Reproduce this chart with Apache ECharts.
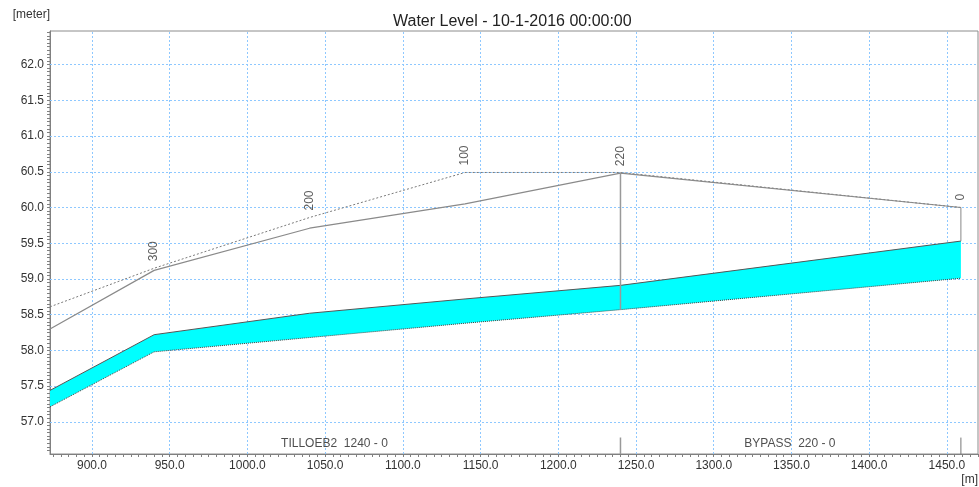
<!DOCTYPE html>
<html>
<head>
<meta charset="utf-8">
<style>
html, body { margin: 0; padding: 0; background: #fff; }
#main { width: 979px; height: 487px; }
</style>
<script src="https://cdn.jsdelivr.net/npm/echarts@6/dist/echarts.min.js"></script>
</head>
<body>
<div id="main"></div>
<script>
// chainage points along the branch (x in metres)
var chainX = [873, 940, 1040, 1140, 1240, 1459];
var dottedLevel = [58.61, 59.15, 59.86, 60.49, 60.49, 60.0];
var solidLevel = [58.30, 59.12, 59.71, 60.05, 60.48, 60.0];
var bandTop = [57.44, 58.22, 58.52, 58.72, 58.91, 59.53];
var bandBottom = [57.21, 57.98, 58.18, 58.38, 58.57, 59.01];

// rotated chainage labels
var pointNames = ['300', '200', '100', '220', '0'];
var pointX = [940, 1040, 1140, 1240, 1459];
var pointY = [59.15, 59.86, 60.49, 60.48, 60.0];

// branch names shown in the lower strip
var branchNames = ['TILLOEB2  1240 - 0', 'BYPASS  220 - 0'];
var branchX = [1056, 1349];
var branchY = [56.69, 56.69];
var branchEnds = [1240, 1459];

var xTicks = [900, 950, 1000, 1050, 1100, 1150, 1200, 1250, 1300, 1350, 1400, 1450];
var yTicks = [57.0, 57.5, 58.0, 58.5, 59.0, 59.5, 60.0, 60.5, 61.0, 61.5, 62.0];

var xMin = 873, xMax = 1470, yMin = 56.55, yMax = 62.47;

var xMinor = [];
for (var k = 175; k * 5 <= xMax; k++) xMinor.push(k * 5);
var yMinor = [];
for (var k = 1132; k * 0.05 <= yMax; k++) yMinor.push(Math.round(k * 5) / 100);

function pairs(xs, ys) {
    var out = [];
    for (var i = 0; i < xs.length; i++) out.push([xs[i], ys[i]]);
    return out;
}

var gridLines = [];
xTicks.forEach(function (v) { gridLines.push({ xAxis: v }); });
yTicks.forEach(function (v) { gridLines.push({ yAxis: v }); });

var myChart = echarts.init(document.getElementById('main'));

var font = 'Liberation Sans, Arial, sans-serif';

// cyan band between bottom and top water surface
function renderBand(params, api) {
    var pts = [];
    for (var i = 0; i < chainX.length; i++) pts.push(api.coord([chainX[i], bandTop[i]]));
    for (var j = chainX.length - 1; j >= 0; j--) pts.push(api.coord([chainX[j], bandBottom[j]]));
    return {
        type: 'polygon',
        shape: { points: pts },
        style: { fill: '#00ffff', stroke: null }
    };
}

var option = {
    animation: false,
    title: {
        text: 'Water Level - 10-1-2016 00:00:00',
        left: 388,
        top: 9,
        textStyle: { fontFamily: font, fontSize: 16, fontWeight: 'normal', color: '#222' }
    },
    graphic: [
        { type: 'text', right: 929, top: 9, style: { text: '[meter]', font: '12px ' + font, fill: '#333' } },
        { type: 'text', right: 1, top: 474, style: { text: '[m]', font: '12px ' + font, fill: '#333' } }
    ],
    grid: {
        left: 50, right: 1, top: 31, bottom: 33,
        show: true, borderColor: '#8c8c8c', borderWidth: 1
    },
    xAxis: {
        type: 'value', min: xMin, max: xMax,
        axisLine: { show: true, lineStyle: { color: '#808080' } },
        axisTick: { show: true, customValues: xMinor, length: 3, lineStyle: { color: '#808080' } },
        axisLabel: {
            customValues: xTicks, margin: 6,
            formatter: function (v) { return v.toFixed(1); },
            fontFamily: font, fontSize: 12, color: '#333'
        },
        splitLine: { show: false }
    },
    yAxis: {
        type: 'value', min: yMin, max: yMax,
        axisLine: { show: true, lineStyle: { color: '#808080' } },
        axisTick: { show: true, customValues: yMinor, length: 3, lineStyle: { color: '#808080' } },
        axisLabel: {
            customValues: yTicks, margin: 6,
            formatter: function (v) { return v.toFixed(1); },
            fontFamily: font, fontSize: 12, color: '#333'
        },
        splitLine: { show: false }
    },
    series: [
        {
            name: 'grid', type: 'line', data: [], z: 1, silent: true,
            markLine: {
                z: 1, silent: true, symbol: ['none', 'none'], label: { show: false },
                lineStyle: { type: [2, 2], color: '#8ec8ff', width: 1 },
                data: gridLines
            }
        },
        {
            name: 'band', type: 'custom', z: 2, silent: true,
            data: [0],
            renderItem: renderBand
        },
        {
            name: 'max', type: 'line', data: pairs(chainX, dottedLevel), showSymbol: false, z: 4,
            lineStyle: { color: '#7a7a7a', width: 1, type: [2, 2] }
        },
        {
            name: 'bank', type: 'line', data: pairs(chainX, solidLevel), showSymbol: false, z: 4,
            lineStyle: { color: '#8a8a8a', width: 1.2 }
        },
        {
            name: 'bottom', type: 'line', data: pairs(chainX, bandBottom), showSymbol: false, z: 3,
            lineStyle: { color: '#404040', width: 1, type: [1, 1] }
        },
        {
            name: 'water', type: 'line', data: pairs(chainX, bandTop), showSymbol: false, z: 3,
            lineStyle: { color: '#555', width: 1 }
        },
        {
            type: 'line', data: [[chainX[4], solidLevel[4]], [chainX[4], bandBottom[4]]], showSymbol: false, z: 5,
            lineStyle: { color: '#999', width: 1.5 }
        },
        {
            type: 'line', data: [[chainX[5], solidLevel[5]], [chainX[5], bandTop[5]]], showSymbol: false, z: 5,
            lineStyle: { color: '#888', width: 1 }
        },
        {
            type: 'line', data: [[branchEnds[0], 56.78], [branchEnds[0], yMin]], showSymbol: false, z: 5,
            lineStyle: { color: '#999', width: 1.5 }
        },
        {
            type: 'line', data: [[branchEnds[1], 56.78], [branchEnds[1], yMin]], showSymbol: false, z: 5,
            lineStyle: { color: '#777', width: 1 }
        },
        {
            type: 'scatter', symbolSize: 0, z: 6, silent: true,
            data: pointNames.map(function (n, i) { return { name: n, value: [pointX[i], pointY[i]] }; }),
            label: {
                show: true, position: 'top', distance: 7, rotate: 90,
                align: 'left', verticalAlign: 'middle',
                formatter: '{b}', fontFamily: font, fontSize: 12, color: '#333'
            }
        },
        {
            type: 'scatter', symbolSize: 0, z: 6, silent: true,
            data: branchNames.map(function (n, i) { return { name: n, value: [branchX[i], branchY[i]] }; }),
            label: {
                show: true, position: 'inside',
                formatter: '{b}', fontFamily: font, fontSize: 12, color: '#222'
            }
        }
    ]
};

myChart.setOption(option);
</script>
</body>
</html>
